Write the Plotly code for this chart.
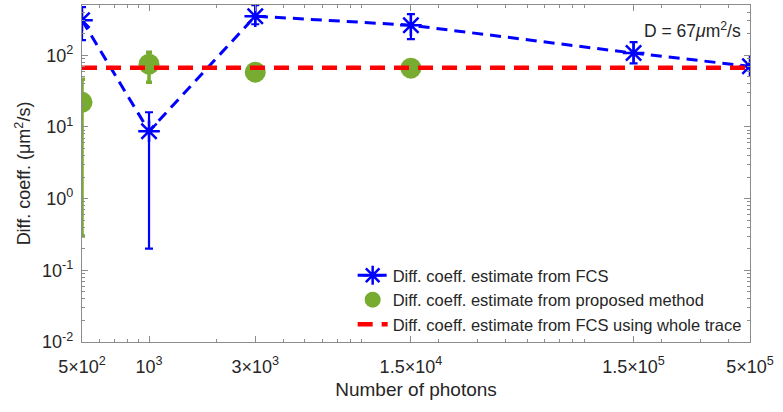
import plotly.graph_objects as go

# Number of photons used for each estimate
photons = [500, 1000, 3000, 15000, 150000, 500000]

# FCS estimates (um^2/s) with asymmetric error bars
fcs_d = [308, 8.7, 350, 262, 107, 70]
fcs_hi = [467, 16, 500, 373, 152, 73]
fcs_lo = [162, 0.2, 270, 167, 77, 67]

# Proposed-method estimates (um^2/s)
prop_photons = [500, 1000, 3000, 15000]
prop_d = [22, 75, 58, 66]
prop_hi = [46, 110, 61, 69]
prop_lo = [0.30, 42, 55, 63]

# Whole-trace FCS value
d_whole = 67

x_tickvals = [500, 1000, 3000, 15000, 150000, 500000]
x_ticktext = ["5×10<sup>2</sup>", "10<sup>3</sup>", "3×10<sup>3</sup>",
              "1.5×10<sup>4</sup>", "1.5×10<sup>5</sup>", "5×10<sup>5</sup>"]
y_tickvals = [0.01, 0.1, 1, 10, 100]
y_ticktext = ["10<sup>-2</sup>", "10<sup>-1</sup>", "10<sup>0</sup>",
              "10<sup>1</sup>", "10<sup>2</sup>"]

x_minor = [m * 10 ** k for k in range(2, 6) for m in range(2, 10)]
y_minor = [m * 10.0 ** k for k in range(-2, 3) for m in range(2, 10)]

BLUE = "#0000FF"
GREEN = "#77AC30"
RED = "#FF0000"
TEXT = "#262626"
AXIS = "#8c8c8c"

fig = go.Figure()

fig.add_trace(go.Scatter(
    x=photons, y=fcs_d, mode="lines+markers",
    name="Diff. coeff. estimate from FCS",
    line=dict(color=BLUE, width=3, dash="11px,7px"),
    marker=dict(symbol="asterisk-open", size=18, color=BLUE,
                line=dict(color=BLUE, width=2.5)),
    error_y=dict(type="data", symmetric=False,
                 array=[h - v for h, v in zip(fcs_hi, fcs_d)],
                 arrayminus=[v - l for v, l in zip(fcs_d, fcs_lo)],
                 color=BLUE, thickness=2.2, width=4),
))

fig.add_trace(go.Scatter(
    x=prop_photons, y=prop_d, mode="markers",
    name="Diff. coeff. estimate from proposed method",
    marker=dict(symbol="circle", size=21, color=GREEN),
    error_y=dict(type="data", symmetric=False,
                 array=[h - v for h, v in zip(prop_hi, prop_d)],
                 arrayminus=[v - l for v, l in zip(prop_d, prop_lo)],
                 color=GREEN, thickness=3.5, width=3),
))

fig.add_trace(go.Scatter(
    x=[photons[0], photons[-1]], y=[d_whole, d_whole], mode="lines",
    name="Diff. coeff. estimate from FCS using whole trace",
    line=dict(color=RED, width=4.5, dash="15px,9px"),
))

axis_common = dict(
    showline=True, linecolor=AXIS, linewidth=1.2, mirror="ticks",
    ticks="inside", ticklen=6, tickcolor=AXIS, showgrid=False,
    zeroline=False, tickfont=dict(size=18, color=TEXT),
)

fig.update_xaxes(
    type="log", range=[2.699, 5.699],
    tickmode="array", tickvals=x_tickvals, ticktext=x_ticktext,
    ticklabelstandoff=8,
    minor=dict(tickmode="array", tickvals=x_minor, ticks="inside",
               ticklen=3, tickcolor=AXIS, showgrid=False),
    title=dict(text="Number of photons", font=dict(size=19, color=TEXT),
               standoff=6),
    **axis_common,
)
fig.update_yaxes(
    type="log", range=[-2, 2.7],
    tickmode="array", tickvals=y_tickvals, ticktext=y_ticktext,
    ticklabelstandoff=4,
    minor=dict(tickmode="array", tickvals=y_minor, ticks="inside",
               ticklen=3, tickcolor=AXIS, showgrid=False),
    title=dict(text="Diff. coeff. (μm<sup>2</sup>/s)",
               font=dict(size=18, color=TEXT), standoff=6),
    **axis_common,
)

fig.add_annotation(
    x=0.99, y=0.925, xref="paper", yref="paper", xanchor="right",
    yanchor="middle", showarrow=False,
    text="D = 67<i>μ</i>m<sup>2</sup>/s",
    font=dict(size=17.5, color=TEXT),
)

fig.update_layout(
    width=783, height=412,
    margin=dict(l=82, r=33, t=5, b=70),
    paper_bgcolor="white", plot_bgcolor="white",
    font=dict(family="Liberation Sans, Arial, sans-serif", color=TEXT),
    legend=dict(x=0.995, y=0.0, xanchor="right", yanchor="bottom",
                bgcolor="rgba(255,255,255,0)", font=dict(size=16.5),
                tracegroupgap=0, itemwidth=30),
    showlegend=True,
)

fig.write_html("out.html")
